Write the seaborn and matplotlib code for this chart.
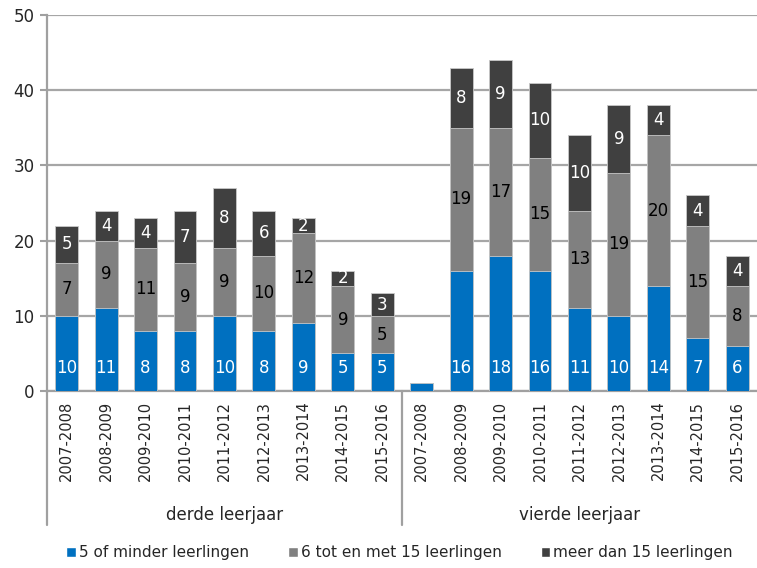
import numpy as np
import pandas as pd
import seaborn as sns
import matplotlib.pyplot as plt
from matplotlib.patches import Patch

# Data
years = ['2007-2008', '2008-2009', '2009-2010', '2010-2011', '2011-2012',
         '2012-2013', '2013-2014', '2014-2015', '2015-2016']
groups = ['derde leerjaar', 'vierde leerjaar']
small = [10, 11, 8, 8, 10, 8, 9, 5, 5,
         1, 16, 18, 16, 11, 10, 14, 7, 6]
medium = [7, 9, 11, 9, 9, 10, 12, 9, 5,
          0, 19, 17, 15, 13, 19, 20, 15, 8]
large = [5, 4, 4, 7, 8, 6, 2, 2, 3,
         0, 8, 9, 10, 10, 9, 4, 4, 4]
series_names = ['5 of minder leerlingen', '6 tot en met 15 leerlingen',
                'meer dan 15 leerlingen']
colors = ['#0070C0', '#808080', '#404040']

keys = [f'{g}|{y}' for g in groups for y in years]
df = pd.DataFrame({'key': keys, 'small': small, 'medium': medium, 'large': large})
df['c1'] = df['small']
df['c2'] = df['small'] + df['medium']
df['c3'] = df['c2'] + df['large']

sns.set_style('white')
plt.rcParams['font.family'] = ['DejaVu Sans']

fig = plt.figure(figsize=(7.57, 5.68), dpi=100)
ax = fig.add_axes([0.062, 0.3116, 0.938, 0.662])

# stacked bars: draw cumulative totals back to front
for col, c in zip(['c3', 'c2', 'c1'], colors[::-1]):
    sns.barplot(data=df, x='key', y=col, order=keys, color=c, saturation=1,
                width=0.58, errorbar=None, edgecolor='#C8C8C8', linewidth=0.6,
                ax=ax, zorder=3)

# value labels
for i, row in df.iterrows():
    if row['small'] > 1:
        ax.text(i, 3.0, str(row['small']), ha='center', va='center',
                color='white', fontsize=12, zorder=5)
    if row['medium'] > 1:
        ax.text(i, row['c1'] + row['medium'] / 2, str(row['medium']),
                ha='center', va='center', color='black', fontsize=12, zorder=5)
    if row['large'] > 1:
        ax.text(i, row['c2'] + row['large'] / 2, str(row['large']),
                ha='center', va='center', color='white', fontsize=12, zorder=5)

ax.set_ylim(0, 50)
ax.set_xlim(-0.5, len(keys) - 0.5)
ax.set_yticks(range(0, 51, 10))
ax.yaxis.grid(True, color='#A6A6A6', linewidth=1.6, zorder=0)
ax.set_axisbelow(True)
ax.tick_params(axis='y', labelsize=12, left=True, length=5, width=1.5,
               color='#A0A0A0', pad=4)
ax.set_xticks(range(len(keys)))
ax.set_xticklabels(years * 2, rotation=90, fontsize=10.5)
ax.tick_params(axis='x', length=0, pad=7)
ax.set_xlabel('')
ax.set_ylabel('')

for s in ['top', 'right']:
    ax.spines[s].set_visible(False)
for s in ['left', 'bottom']:
    ax.spines[s].set_color('#A0A0A0')
    ax.spines[s].set_linewidth(1.6)

# category axis: left line extension, separator, group labels
ax.plot([-0.5, -0.5], [0, -0.357], transform=ax.get_xaxis_transform(),
        color='#A0A0A0', lw=1.6, clip_on=False)
ax.plot([8.5, 8.5], [0, -0.357], transform=ax.get_xaxis_transform(),
        color='#A0A0A0', lw=1.6, clip_on=False)
for gi, g in enumerate(groups):
    ax.text(4 + 9 * gi, -0.33, g, transform=ax.get_xaxis_transform(),
            ha='center', va='center', fontsize=12)

handles = [Patch(facecolor=c, label=n) for c, n in zip(colors, series_names)]
fig.legend(handles=handles, loc='center', bbox_to_anchor=(0.528, 0.027),
           ncol=3, frameon=False, fontsize=11, handlelength=0.6,
           handleheight=0.6, handletextpad=0.2, columnspacing=2.6)

fig.savefig('out.png', dpi=100)
